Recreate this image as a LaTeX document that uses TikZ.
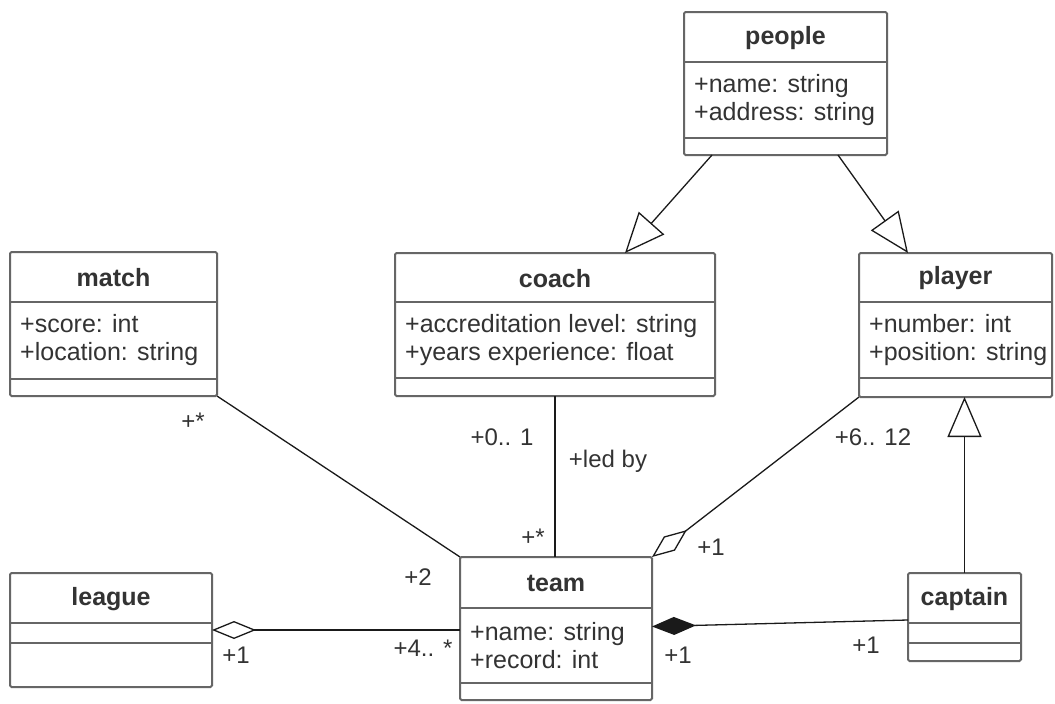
\documentclass[tikz,border=0pt]{standalone}
\usepackage{fontspec}
\setmainfont{Liberation Sans}
\usetikzlibrary{arrows.meta,calc}
\definecolor{boxline}{HTML}{666666}
\definecolor{txt}{HTML}{333333}
\definecolor{edge}{HTML}{1A1A1A}
\tikzset{
  classbox/.style={draw=boxline, line width=2pt, fill=white, rounded corners=1.5pt,
    anchor=north west, inner sep=0pt, outer sep=0pt},
  boxsep/.style={draw=boxline, line width=2pt},
  classtitle/.style={font=\bfseries\fontsize{25}{27}\selectfont, text=txt, inner sep=0pt},
  classattr/.style={font=\fontsize{25}{28}\selectfont, text=txt, anchor=west, align=left, inner sep=0pt},
  mult/.style={font=\fontsize{24}{26}\selectfont, text=txt, inner sep=0pt},
  conn/.style={draw=edge, line width=1.3pt},
  gen/.style={conn, -{Triangle[open, length=40pt, width=34pt, line width=1.3pt]}},
  aggr/.style={conn, -{Diamond[open, length=44pt, width=18pt, line width=1.3pt]}},
  comp/.style={conn, -{Diamond[length=44pt, width=18pt]}},
}
% #1 name, #2 left, #3 top, #4 right, #5 sep1, #6 sep2, #7 bottom, #8 title, #9 attributes
\newcommand\umlclass[9]{%
  \node[classbox, minimum width={(#4-#2)*1pt}, minimum height={(#7-#3)*1pt}] (#1) at (#2,#3) {};
  \draw[boxsep] (#2,#5) -- (#4,#5);
  \draw[boxsep] (#2,#6) -- (#4,#6);
  \node[classtitle] (#1-title) at ({(#2+#4)/2},{(#3+#5)/2+1}) {#8};
  \node[classattr] (#1-attr) at (#2+10,{(#5+#6)/2}) {#9};
}
\begin{document}
\begin{tikzpicture}[x=1pt,y=-1pt]
\useasboundingbox (0,0) rectangle (1055,704);
\fill[white] (0,0) rectangle (1055,704);

\umlclass{people}{684}{12}{887}{62}{138}{155}{people}{+name: string\\+address: string}
\umlclass{match}{10}{252}{217}{302}{379}{396}{match}{+score: int\\+location: string}
\umlclass{coach}{395}{253}{715}{302}{378}{396}{coach}{+accreditation level: string\\+years experience: float}
\umlclass{player}{859}{253}{1052}{302}{378}{397}{player}{+number: int\\+position: string}
\umlclass{league}{10}{573}{212}{623}{643}{687}{league}{}
\umlclass{team}{460}{557}{652}{608}{683}{700}{team}{+name: string\\+record: int}
\umlclass{captain}{908}{573}{1021}{623}{643}{661}{captain}{}

% generalizations
\draw[gen] ($(people.south west)+(28,0)$) -- ($(coach.north west)+(230,0)$);
\draw[gen] ($(people.south west)+(154,0)$) -- ($(player.north west)+(49,0)$);
\draw[gen] (captain.north) -- (captain.north |- player.south);

% associations
\draw[conn] (match.south east) -- (team.north west);
\draw[conn] (coach.south) -- (coach.south |- team.north);
\draw[aggr] (player.south west) -- (team.north east);
\draw[aggr] (team.west |- league.east) -- (league.east);
\draw[comp] ($(captain.west)+(0,3)$) -- ($(team.east)+(0,-2)$);

% multiplicities and roles
\node[mult] (m1) at (193,421) {+*};
\node[mult] (m2) at (418,577) {+2};
\node[mult] (m3) at (502,437) {+0.. 1};
\node[mult] (m4) at (608,461) {+led by};
\node[mult] (m5) at (533,537) {+*};
\node[mult] (m6) at (873,437) {+6.. 12};
\node[mult] (m7) at (711,547) {+1};
\node[mult] (m8) at (236,655) {+1};
\node[mult] (m9) at (423,648) {+4.. *};
\node[mult] (m10) at (678,655) {+1};
\node[mult] (m11) at (866,645) {+1};
\end{tikzpicture}
\end{document}
